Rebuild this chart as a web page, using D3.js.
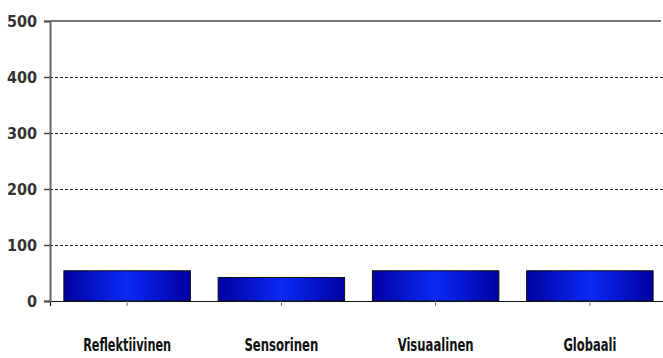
<!DOCTYPE html>
<html>
<head>
<meta charset="utf-8">
<script src="https://cdn.jsdelivr.net/npm/d3@7"></script>
<style>
  body { margin: 0; background: #fff; }
  .gridline line { stroke: #222; stroke-dasharray: 3,2; }
  .gridline path { display: none; }
</style>
</head>
<body>
<div id="chart"></div>
<script>
// data
const categories = ['Reflektiivinen', 'Sensorinen', 'Visuaalinen', 'Globaali'];
const values = [54, 42, 54, 54];
const yTicks = [0, 100, 200, 300, 400, 500];
const labelWidths = [88, 74, 76, 53];

const width = 663, height = 358;
const margin = { top: 21, right: -4, bottom: 57, left: 50 };
const chartWidth = width - margin.left - margin.right;
const chartHeight = height - margin.top - margin.bottom;

const svg = d3.select('#chart')
   .append('svg')
   .attr('width', width)
   .attr('height', height);

// horizontal shading of the bars
const grad = svg.append('defs').append('linearGradient')
   .attr('id', 'barFill')
   .attr('x1', '0%').attr('x2', '100%').attr('y1', '0%').attr('y2', '0%');
grad.append('stop').attr('offset', '0%').attr('stop-color', '#0000a0');
grad.append('stop').attr('offset', '50%').attr('stop-color', '#0a2af5');
grad.append('stop').attr('offset', '100%').attr('stop-color', '#0000a0');

const chart = svg.append('g')
   .attr('transform', `translate(${margin.left},${margin.top})`);

const xScale = d3.scaleBand()
   .domain(categories)
   .range([0, chartWidth])
   .paddingInner(0.18)
   .paddingOuter(0.09);

const yScale = d3.scaleLinear()
   .domain([0, 500])
   .range([chartHeight, 0]);

// dashed gridlines (not at 0 and 500)
const yGridlines = d3.axisLeft(yScale)
   .tickValues(yTicks.filter(d => d > 0 && d < 500))
   .tickSize(-chartWidth)
   .tickFormat('');

chart.append('g')
   .classed('gridline', true)
   .call(yGridlines);

// solid top line
chart.append('line')
   .attr('x1', 0).attr('x2', chartWidth - 6)
   .attr('y1', yScale(500)).attr('y2', yScale(500))
   .attr('stroke', '#777').attr('stroke-width', 2);

chart.selectAll('.bar')
   .data(values)
   .enter()
   .append('rect')
   .classed('bar', true)
   .attr('x', (d, i) => xScale(categories[i]))
   .attr('y', d => yScale(d))
   .attr('width', xScale.bandwidth())
   .attr('height', d => chartHeight - yScale(d))
   .attr('fill', 'url(#barFill)')
   .attr('stroke', '#111')
   .attr('stroke-width', 1);

// x axis
const xAxis = d3.axisBottom(xScale).tickSize(5).tickFormat('');
const gx = chart.append('g')
   .attr('transform', `translate(0,${chartHeight})`)
   .call(xAxis);
gx.select('.domain').attr('stroke', '#111').attr('stroke-width', 1.2);
gx.selectAll('.tick line').attr('stroke', '#777');

chart.selectAll('.x-label')
   .data(categories)
   .enter()
   .append('text')
   .classed('x-label', true)
   .attr('x', d => xScale(d) + xScale.bandwidth() / 2)
   .attr('y', chartHeight + 50)
   .attr('text-anchor', 'middle')
   .attr('textLength', (d, i) => labelWidths[i])
   .attr('lengthAdjust', 'spacingAndGlyphs')
   .style('font-family', '"DejaVu Sans Condensed", "DejaVu Sans", sans-serif')
   .style('font-weight', 'bold')
   .style('font-size', '17px')
   .attr('fill', '#111')
   .text(d => d);

// y axis
const yAxis = d3.axisLeft(yScale).tickValues(yTicks).tickSize(6).tickPadding(7);
const gy = chart.append('g').call(yAxis);
gy.select('.domain').attr('stroke', '#666').attr('stroke-width', 2);
gy.selectAll('.tick line').attr('stroke', '#444').attr('stroke-width', 1.5);
gy.selectAll('.tick text')
   .style('font-family', '"DejaVu Sans Condensed", "DejaVu Sans", sans-serif')
   .style('font-weight', 'bold')
   .style('font-size', '16px')
   .attr('fill', '#333');
</script>
</body>
</html>
